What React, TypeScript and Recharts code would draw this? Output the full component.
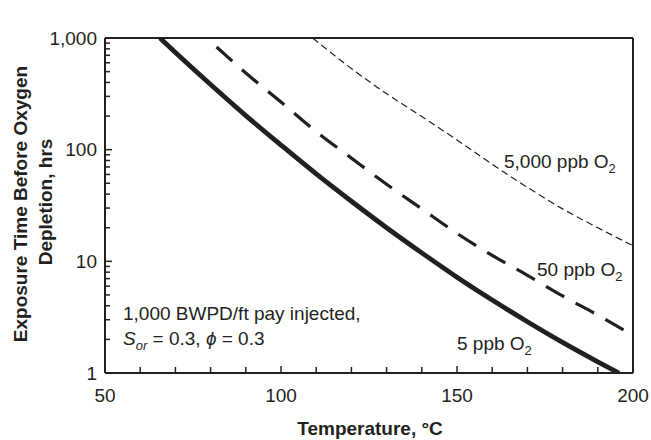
import React from 'react';
import { LineChart, Line, XAxis, YAxis, ReferenceLine } from 'recharts';

// ---- data ----
const temps5 = [65.6, 70, 80, 90, 100, 110, 120, 130, 140, 150, 160, 170, 180, 190, 196];
const hours5 = [1000, 742, 383, 202, 110, 60.7, 34.5, 20, 11.9, 7.2, 4.5, 2.88, 1.88, 1.26, 1];

const temps50 = [81.7, 90, 100, 110, 120, 130, 140, 150, 160, 170, 180, 190, 200];
const hours50 = [830, 486, 267, 145, 84, 49, 29.5, 17.8, 11.3, 7.5, 4.9, 3.3, 2.17];

const temps5000 = [109, 120, 130, 140, 150, 160, 170, 180, 190, 200];
const hours5000 = [1000, 533, 317, 198, 122, 74, 46, 29.5, 20, 13.8];

const xTicks = [50, 60, 70, 80, 90, 100, 110, 120, 130, 140, 150, 160, 170, 180, 190, 200];
const xLabelTicks = [50, 100, 150, 200];
const yTicks = [1, 2, 3, 4, 5, 6, 7, 8, 9, 10, 20, 30, 40, 50, 60, 70, 80, 90, 100, 200, 300, 400, 500, 600, 700, 800, 900, 1000];
const yLabelTicks = [1, 10, 100, 1000];

const seriesNames = ['5 ppb O', '50 ppb O', '5,000 ppb O'];

const toRows = (ts: number[], hs: number[]) => ts.map((t, i) => ({ t, h: hs[i] }));
const data5 = toRows(temps5, hours5);
const data50 = toRows(temps50, hours50);
const data5000 = toRows(temps5000, hours5000);

const INK = '#231f20';
const FONT = "'Liberation Sans', Arial, Helvetica, sans-serif";

const XTick = (props: any) => {
  const { x, y, payload } = props;
  const v = payload.value;
  const major = xLabelTicks.includes(v);
  return (
    <g>
      <line x1={x} x2={x} y1={y} y2={y - (major ? 7 : 6)} stroke={INK} strokeWidth={1.5} />
      {major && (
        <text x={x} y={y + 22} textAnchor="middle" dominantBaseline="central" fontSize={19} fill={INK} fontFamily={FONT}>
          {v}
        </text>
      )}
    </g>
  );
};

const YTick = (props: any) => {
  const { x, y, payload } = props;
  const v = payload.value;
  const major = yLabelTicks.includes(v);
  return (
    <g>
      <line x1={x} x2={x + (major ? 7 : 5)} y1={y} y2={y} stroke={INK} strokeWidth={1.5} />
      {major && (
        <text x={x - 8} y={y} textAnchor="end" dominantBaseline="central" fontSize={19} fill={INK} fontFamily={FONT}>
          {v.toLocaleString('en-US')}
        </text>
      )}
    </g>
  );
};

export default function App() {
  return (
    <div style={{ position: 'absolute', left: 0, top: 0, width: 651, height: 440, background: '#fff' }}>
      <LineChart width={651} height={440} margin={{ top: 38, right: 18, bottom: 37, left: 0 }}>
        <XAxis
          type="number"
          dataKey="t"
          domain={[50, 200]}
          ticks={xTicks}
          interval={0}
          allowDataOverflow
          height={30}
          tickSize={0}
          tickMargin={0}
          tickLine={false}
          tick={<XTick />}
          axisLine={{ stroke: INK, strokeWidth: 2 }}
        />
        <YAxis
          type="number"
          scale="log"
          domain={[1, 1000]}
          ticks={yTicks}
          interval={0}
          allowDataOverflow
          width={105}
          tickSize={0}
          tickMargin={0}
          tickLine={false}
          tick={<YTick />}
          axisLine={{ stroke: INK, strokeWidth: 2 }}
        />
        <ReferenceLine y={1000} stroke={INK} strokeWidth={2} />
        <ReferenceLine x={200} stroke={INK} strokeWidth={2} />
        <Line
          data={data5000}
          dataKey="h"
          name={seriesNames[2]}
          type="monotone"
          stroke={INK}
          strokeWidth={1.2}
          strokeDasharray="7 4"
          dot={false}
          isAnimationActive={false}
        />
        <Line
          data={data50}
          dataKey="h"
          name={seriesNames[1]}
          type="monotone"
          stroke={INK}
          strokeWidth={3.2}
          strokeDasharray="21 13"
          dot={false}
          isAnimationActive={false}
        />
        <Line
          data={data5}
          dataKey="h"
          name={seriesNames[0]}
          type="monotone"
          stroke={INK}
          strokeWidth={4.8}
          dot={false}
          isAnimationActive={false}
        />
      </LineChart>
      <svg
        width={651}
        height={440}
        style={{ position: 'absolute', left: 0, top: 0, pointerEvents: 'none' }}
        fontFamily={FONT}
        fill={INK}
      >
        <text x={504} y={168} fontSize={19}>
          {seriesNames[2]}
          <tspan fontSize={13} dy={5}>2</tspan>
        </text>
        <text x={537} y={276} fontSize={19}>
          {seriesNames[1]}
          <tspan fontSize={13} dy={5}>2</tspan>
        </text>
        <text x={457} y={350} fontSize={19}>
          {seriesNames[0]}
          <tspan fontSize={13} dy={5}>2</tspan>
        </text>
        <text x={123} y={320} fontSize={19}>1,000 BWPD/ft pay injected,</text>
        <text x={123} y={345} fontSize={19}>
          <tspan fontStyle="italic">S</tspan>
          <tspan fontStyle="italic" fontSize={13} dy={5}>or</tspan>
          <tspan dy={-5}> = 0.3, </tspan>
          <tspan fontStyle="italic">ϕ</tspan>
          <tspan> = 0.3</tspan>
        </text>
        <text x={370} y={428} fontSize={19} fontWeight="bold" textAnchor="middle" dominantBaseline="central">
          Temperature, °C
        </text>
        <text
          transform="translate(20,204) rotate(-90)"
          fontSize={19}
          fontWeight="bold"
          textAnchor="middle"
          dominantBaseline="central"
        >
          Exposure Time Before Oxygen
        </text>
        <text
          transform="translate(45,202) rotate(-90)"
          fontSize={19}
          fontWeight="bold"
          textAnchor="middle"
          dominantBaseline="central"
        >
          Depletion, hrs
        </text>
      </svg>
    </div>
  );
}
